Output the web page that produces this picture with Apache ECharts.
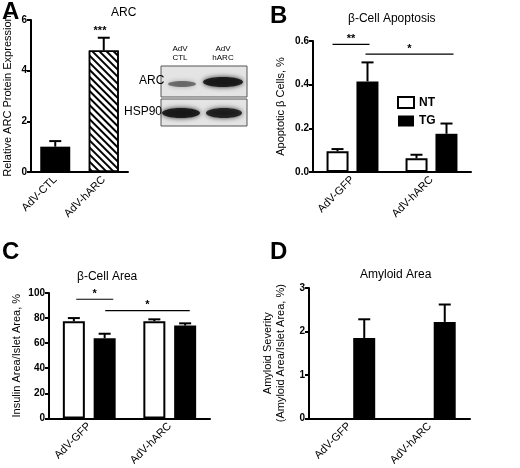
<!DOCTYPE html>
<html>
<head>
<meta charset="utf-8">
<script src="https://cdn.jsdelivr.net/npm/echarts@6/dist/echarts.min.js"></script>
<style>html,body{margin:0;padding:0;background:#fff}#main{width:520px;height:468px}</style>
</head>
<body>
<div id="main"></div>
<script>
const groups = ['AdV-GFP', 'AdV-hARC']
// A: ARC expression
const arcCats = ['AdV-CTL', 'AdV-hARC']
const arcVals = [1.0, 4.8]
const arcErr = [0.22, 0.5]
// B: apoptosis
const apoNT = [0.095, 0.063]
const apoNTErr = [0.01, 0.016]
const apoTG = [0.415, 0.175]
const apoTGErr = [0.087, 0.047]
// C: beta-cell area
const areaNT = [77.5, 77.5]
const areaNTErr = [2.5, 1.5]
const areaTG = [64, 74]
const areaTGErr = [3.5, 1.8]
// D: amyloid
const amyNT = [0, 0]
const amyTG = [1.85, 2.22]
const amyTGErr = [0.43, 0.4]

const font = 'Liberation Sans'
const axisLine = { lineStyle: { color: '#000', width: 2 } }

function yAxis(idx, max, interval, name, gap, dec) {
  return {
    gridIndex: idx, type: 'value', min: 0, max, interval,
    axisLine: { show: true, ...axisLine },
    axisTick: { show: true, length: 4, lineStyle: { color: '#000', width: 2 } },
    splitLine: { show: false },
    axisLabel: { color: '#000', fontWeight: 'bold', fontSize: 10, fontFamily: font, margin: 4,
      formatter: v => dec ? v.toFixed(1) : String(v) },
    name, nameLocation: 'middle', nameGap: gap,
    nameTextStyle: { color: '#000', fontSize: 11, fontFamily: font, lineHeight: 13 }
  }
}
function xAxis(idx, data) {
  return {
    gridIndex: idx, type: 'category', data,
    axisLine: axisLine, axisTick: { show: false },
    axisLabel: { color: '#000', fontSize: 11, fontFamily: font, rotate: 45, margin: 6, interval: 0 }
  }
}
function errBars(idx, vals, errs, offset) {
  return {
    type: 'custom', xAxisIndex: idx, yAxisIndex: idx, z: 1,
    data: vals.map((v, i) => [i, v, errs[i]]),
    renderItem: (params, api) => {
      const top = api.coord([api.value(0), api.value(1) + api.value(2)])
      const base = api.coord([api.value(0), api.value(1)])
      const x = top[0] + offset
      const st = { stroke: '#000', lineWidth: 2 }
      return { type: 'group', children: [
        { type: 'line', shape: { x1: x, y1: base[1], x2: x, y2: top[1] }, style: st },
        { type: 'line', shape: { x1: x - 6, y1: top[1], x2: x + 6, y2: top[1] }, style: st }
      ] }
    }
  }
}
const ntStyle = { color: '#fff', borderColor: '#000', borderWidth: 2 }
const tgStyle = { color: '#000' }

const chart = echarts.init(document.getElementById('main'))
const option = {
  animation: false,
  textStyle: { fontFamily: font },
  title: [
    { text: 'ARC', left: 106, top: 2 },
    { text: 'β-Cell Apoptosis', left: 343, top: 8 },
    { text: 'β-Cell Area', left: 72, top: 266 },
    { text: 'Amyloid Area', left: 355, top: 264 }
  ].map(t => ({ ...t, textStyle: { fontSize: 12, fontWeight: 'normal', color: '#000', fontFamily: font } })),
  legend: {
    left: 392, top: 91, orient: 'vertical', itemWidth: 16, itemHeight: 11, itemGap: 6, icon: 'rect',
    data: ['NT', 'TG'],
    textStyle: { fontWeight: 'bold', fontSize: 12, color: '#000' }
  },
  grid: [
    { left: 29, right: 392, top: 20, bottom: 296 },
    { left: 313, right: 49, top: 41, bottom: 296 },
    { left: 49, right: 310, top: 293, bottom: 46 },
    { left: 309, right: 50, top: 288, bottom: 47 }
  ],
  xAxis: [xAxis(0, arcCats), xAxis(1, groups), xAxis(2, groups), xAxis(3, groups)],
  yAxis: [
    yAxis(0, 6, 2, 'Relative ARC Protein Expression', 17, false),
    yAxis(1, 0.6, 0.2, 'Apoptotic β Cells, %', 26, true),
    yAxis(2, 100, 20, 'Insulin Area/Islet Area, %', 26, false),
    yAxis(3, 3, 1, 'Amyloid Severity\n(Amyloid Area/Islet Area, %)', 22, false)
  ],
  series: [
    { type: 'bar', xAxisIndex: 0, yAxisIndex: 0, barWidth: 30, z: 2,
      data: [
        { value: arcVals[0], itemStyle: { color: '#000' } },
        { value: arcVals[1], itemStyle: { color: '#fff', borderColor: '#000', borderWidth: 1.5,
          decal: { symbol: 'rect', symbolSize: 1, dashArrayX: [1, 0], dashArrayY: [1.5, 3], rotation: Math.PI / 4, color: '#000' } } }
      ] },
    errBars(0, arcVals, arcErr, 0),
    { name: 'NT', type: 'bar', xAxisIndex: 1, yAxisIndex: 1, barWidth: 22, barGap: '36%', data: apoNT, itemStyle: ntStyle, z: 2 },
    { name: 'TG', type: 'bar', xAxisIndex: 1, yAxisIndex: 1, barWidth: 22, barGap: '36%', data: apoTG, itemStyle: tgStyle, z: 2 },
    errBars(1, apoNT, apoNTErr, -15), errBars(1, apoTG, apoTGErr, 15),
    { name: 'NT', type: 'bar', xAxisIndex: 2, yAxisIndex: 2, barWidth: 22, barGap: '40%', data: areaNT, itemStyle: ntStyle, z: 2 },
    { name: 'TG', type: 'bar', xAxisIndex: 2, yAxisIndex: 2, barWidth: 22, barGap: '40%', data: areaTG, itemStyle: tgStyle, z: 2 },
    errBars(2, areaNT, areaNTErr, -15.4), errBars(2, areaTG, areaTGErr, 15.4),
    { name: 'NT', type: 'bar', xAxisIndex: 3, yAxisIndex: 3, barWidth: 22, barGap: '36%', data: amyNT, itemStyle: { color: 'transparent' }, z: 2 },
    { name: 'TG', type: 'bar', xAxisIndex: 3, yAxisIndex: 3, barWidth: 22, barGap: '36%', data: amyTG, itemStyle: tgStyle, z: 2 },
    errBars(3, amyTG, amyTGErr, 15)
  ]
}
chart.setOption(option)

// significance brackets: category index plus pixel offset
function px(g, i, y) { return chart.convertToPixel({ gridIndex: g }, [i, y]) }
function sig(g, i1, o1, i2, o2, y, label) {
  const a = px(g, i1, y), b = px(g, i2, y)
  const x1 = a[0] + o1, x2 = b[0] + o2
  return [
    { type: 'line', shape: { x1, y1: a[1], x2, y2: a[1] }, style: { stroke: '#000', lineWidth: 1.2 } },
    { type: 'text', x: (x1 + x2) / 2, y: a[1] - 11, style: { text: label, fontSize: 11, fontWeight: 'bold', textAlign: 'center', fill: '#000' } }
  ]
}
function band(x, y, w, h, alpha) {
  return { type: 'ellipse', shape: { cx: x, cy: y, rx: w, ry: h },
    style: { fill: 'rgba(20,20,20,' + alpha + ')', shadowBlur: 5, shadowColor: 'rgba(0,0,0,' + alpha + ')' } }
}
const txt = (x, y, t, s, b) => ({ type: 'text', x, y, style: { text: t, fontSize: s, fontWeight: b ? 'bold' : 'normal', textAlign: 'center', fill: '#000', lineHeight: s + 1 } })
const letter = (x, y, t) => ({ type: 'text', x, y, style: { text: t, fontSize: 24, fontWeight: 'bold', fill: '#000', fontFamily: font } })
const graphics = [
  ...sig(1, 0, -20, 0, 17, 0.585, '**'),
  ...sig(1, 0, 13, 1, 22, 0.54, '*'),
  ...sig(2, 0, -13, 0, 24, 95, '*'),
  ...sig(2, 0, 16, 1, 20, 86, '*'),
  txt(100, 25, '***', 11, true),
  letter(2, 0, 'A'), letter(270, 4, 'B'), letter(2, 240, 'C'), letter(270, 240, 'D'),
  txt(180, 44, 'AdV\nCTL', 8, false), txt(223, 44, 'AdV\nhARC', 8, false),
  { type: 'rect', shape: { x: 161, y: 66, width: 86, height: 31 }, style: { fill: '#e4e4e4', stroke: '#555', lineWidth: 1 } },
  { type: 'rect', shape: { x: 161, y: 99, width: 86, height: 27 }, style: { fill: '#e4e4e4', stroke: '#555', lineWidth: 1 } },
  band(182, 84, 14, 3, 0.5), band(223, 82, 20, 5, 0.9),
  band(181, 113, 19, 5, 0.9), band(224, 113, 18, 5, 0.85),
  { type: 'text', x: 139, y: 75, style: { text: 'ARC', fontSize: 12, fill: '#000' } },
  { type: 'text', x: 124, y: 106, style: { text: 'HSP90', fontSize: 12, fill: '#000' } }
]
chart.setOption({ graphic: graphics })
window.addEventListener('resize', () => chart.resize())
</script>
</body>
</html>
